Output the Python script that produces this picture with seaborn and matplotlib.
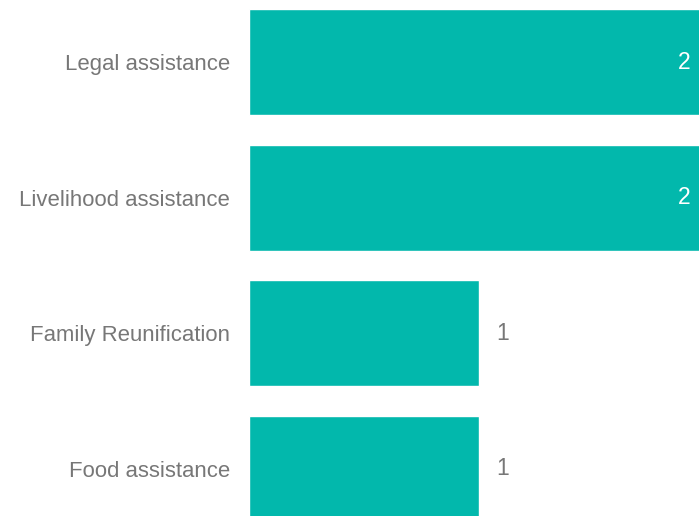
import seaborn as sns
import matplotlib.pyplot as plt
import pandas as pd

categories = ["Legal assistance", "Livelihood assistance", "Family Reunification", "Food assistance"]
counts = [2, 2, 1, 1]

df = pd.DataFrame({"category": categories, "count": counts})

sns.set_theme(style="white")
plt.rcParams['font.family'] = ['Liberation Sans', 'DejaVu Sans']

fig = plt.figure(figsize=(6.99, 5.16), dpi=100)
ax = fig.add_axes([249 / 699, 0, 450 / 699, 1])
sns.barplot(data=df, x="count", y="category", color="#02B8AC", saturation=1,
            width=0.78, ax=ax)

ax.set_xlim(0, 450 / 230)
ax.set_ylim(3.35, -0.46)
sns.despine(ax=ax, left=True, bottom=True)
ax.set_xticks([])
ax.set_xlabel("")
ax.set_ylabel("")
ax.tick_params(axis="y", length=0, pad=13.5, labelsize=15.9, labelcolor="#777777")

# value labels: inside (white) when the bar runs off the edge, outside otherwise
for i, v in enumerate(counts):
    if v >= 2:
        ax.annotate(str(v), (v, i), xytext=(-13, 0), textcoords="offset points",
                    ha="right", va="center", color="white", fontsize=16.5,
                    annotation_clip=False)
    else:
        ax.annotate(str(v), (v, i), xytext=(12.5, 0), textcoords="offset points",
                    ha="left", va="center", color="#777777", fontsize=16.5)

fig.savefig("out.png", dpi=100)
